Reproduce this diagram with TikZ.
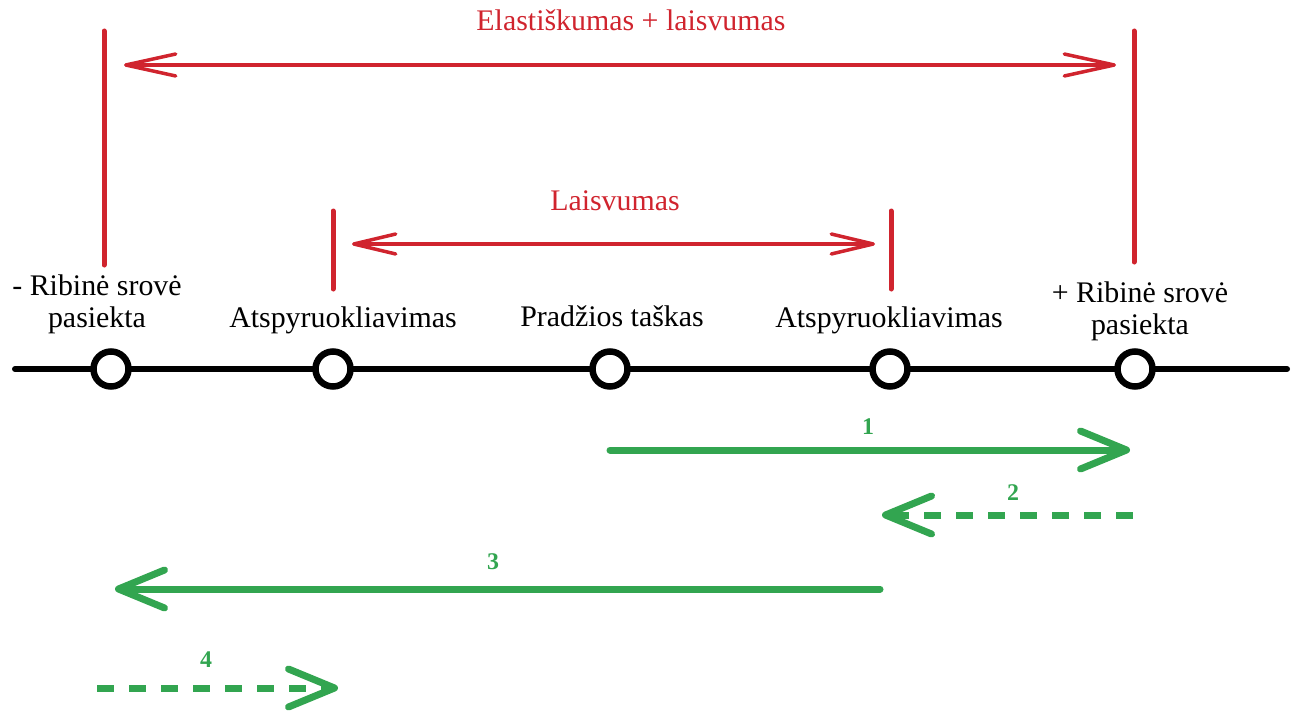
\documentclass[tikz,border=0pt]{standalone}
\usepackage{fontspec}
\setmainfont{Liberation Serif}
\usetikzlibrary{arrows.meta}
\definecolor{limred}{RGB}{208,36,46}
\definecolor{movegreen}{RGB}{50,165,80}
\begin{document}
\begin{tikzpicture}[x=1bp,y=-1bp,
  lbl/.style={font=\fontsize{30}{32}\selectfont, align=center, inner sep=0pt, anchor=base},
  redlbl/.style={lbl, text=limred},
  numlbl/.style={font=\bfseries\fontsize{24}{26}\selectfont, text=movegreen, inner sep=0pt, anchor=base},
  station/.style={circle, draw=black, fill=white, line width=6.5bp, minimum size=35bp, inner sep=0pt},
  axis/.style={line width=6bp, line cap=round},
  bound/.style={draw=limred, line width=5bp, line cap=round},
  span/.style={draw=limred, line width=3.5bp, line cap=round,
    {Straight Barb[length=50bp,width=22bp,round]}-{Straight Barb[length=50bp,width=22bp,round]}},
  innerspan/.style={span, {Straight Barb[length=42bp,width=20bp,round]}-{Straight Barb[length=42bp,width=20bp,round]}},
  move/.style={draw=movegreen, line width=7bp, line cap=round, -{Straight Barb[length=46bp,width=38bp,round]}},
  movedash/.style={move, line cap=butt, dash pattern=on 17bp off 15bp}]
\useasboundingbox (0,0) rectangle (1299,711);

% main axis with its five stations
\coordinate (axL) at (15,369);
\coordinate (axR) at (1287,369);
\draw[axis] (axL) -- (axR);
\node[station] (p1) at (111,369) {};
\node[station] (p2) at (333,369) {};
\node[station] (p3) at (610,369) {};
\node[station] (p4) at (890,369) {};
\node[station] (p5) at (1135,369) {};

% station labels (base = last line)
\node[lbl] (l1) at (97,327) {- Ribinė srovė\\pasiekta};
\node[lbl] (l2) at (343,327) {Atspyruokliavimas};
\node[lbl] (l3) at (612,326) {Pradžios taškas};
\node[lbl] (l4) at (889,327) {Atspyruokliavimas};
\node[lbl] (l5) at (1140,334) {+ Ribinė srovė\\pasiekta};

% outer limits: elasticity + play
\coordinate (bL1) at (104,31);  \coordinate (bL2) at (104,265);
\coordinate (bR1) at (1134,31); \coordinate (bR2) at (1134,262);
\draw[bound] (bL1) -- (bL2);
\draw[bound] (bR1) -- (bR2);
\coordinate (oL) at (124,65); \coordinate (oR) at (1116,65);
\draw[span] (oL) -- (oR);
\node[redlbl] (t1) at (631,31) {Elastiškumas + laisvumas};

% inner limits: play only
\coordinate (iL1) at (333,211); \coordinate (iL2) at (333,289);
\coordinate (iR1) at (891,211); \coordinate (iR2) at (891,289);
\draw[bound] (iL1) -- (iL2);
\draw[bound] (iR1) -- (iR2);
\coordinate (sL) at (352,244); \coordinate (sR) at (875,244);
\draw[innerspan] (sL) -- (sR);
\node[redlbl] (t2) at (615,210) {Laisvumas};

% movement sequence
\coordinate (m1a) at (610,450);  \coordinate (m1b) at (1130,450);
\draw[move] (m1a) -- (m1b);
\node[numlbl] (n1) at (868,434) {1};

\coordinate (m2a) at (1133,515); \coordinate (m2b) at (882,515);
\draw[movedash] (m2a) -- (m2b);
\node[numlbl] (n2) at (1013,500) {2};

\coordinate (m3a) at (880,589);  \coordinate (m3b) at (115,589);
\draw[move] (m3a) -- (m3b);
\node[numlbl] (n3) at (493,569) {3};

\coordinate (m4a) at (97,688);   \coordinate (m4b) at (338,688);
\draw[movedash] (m4a) -- (m4b);
\node[numlbl] (n4) at (206,667) {4};
\end{tikzpicture}
\end{document}
